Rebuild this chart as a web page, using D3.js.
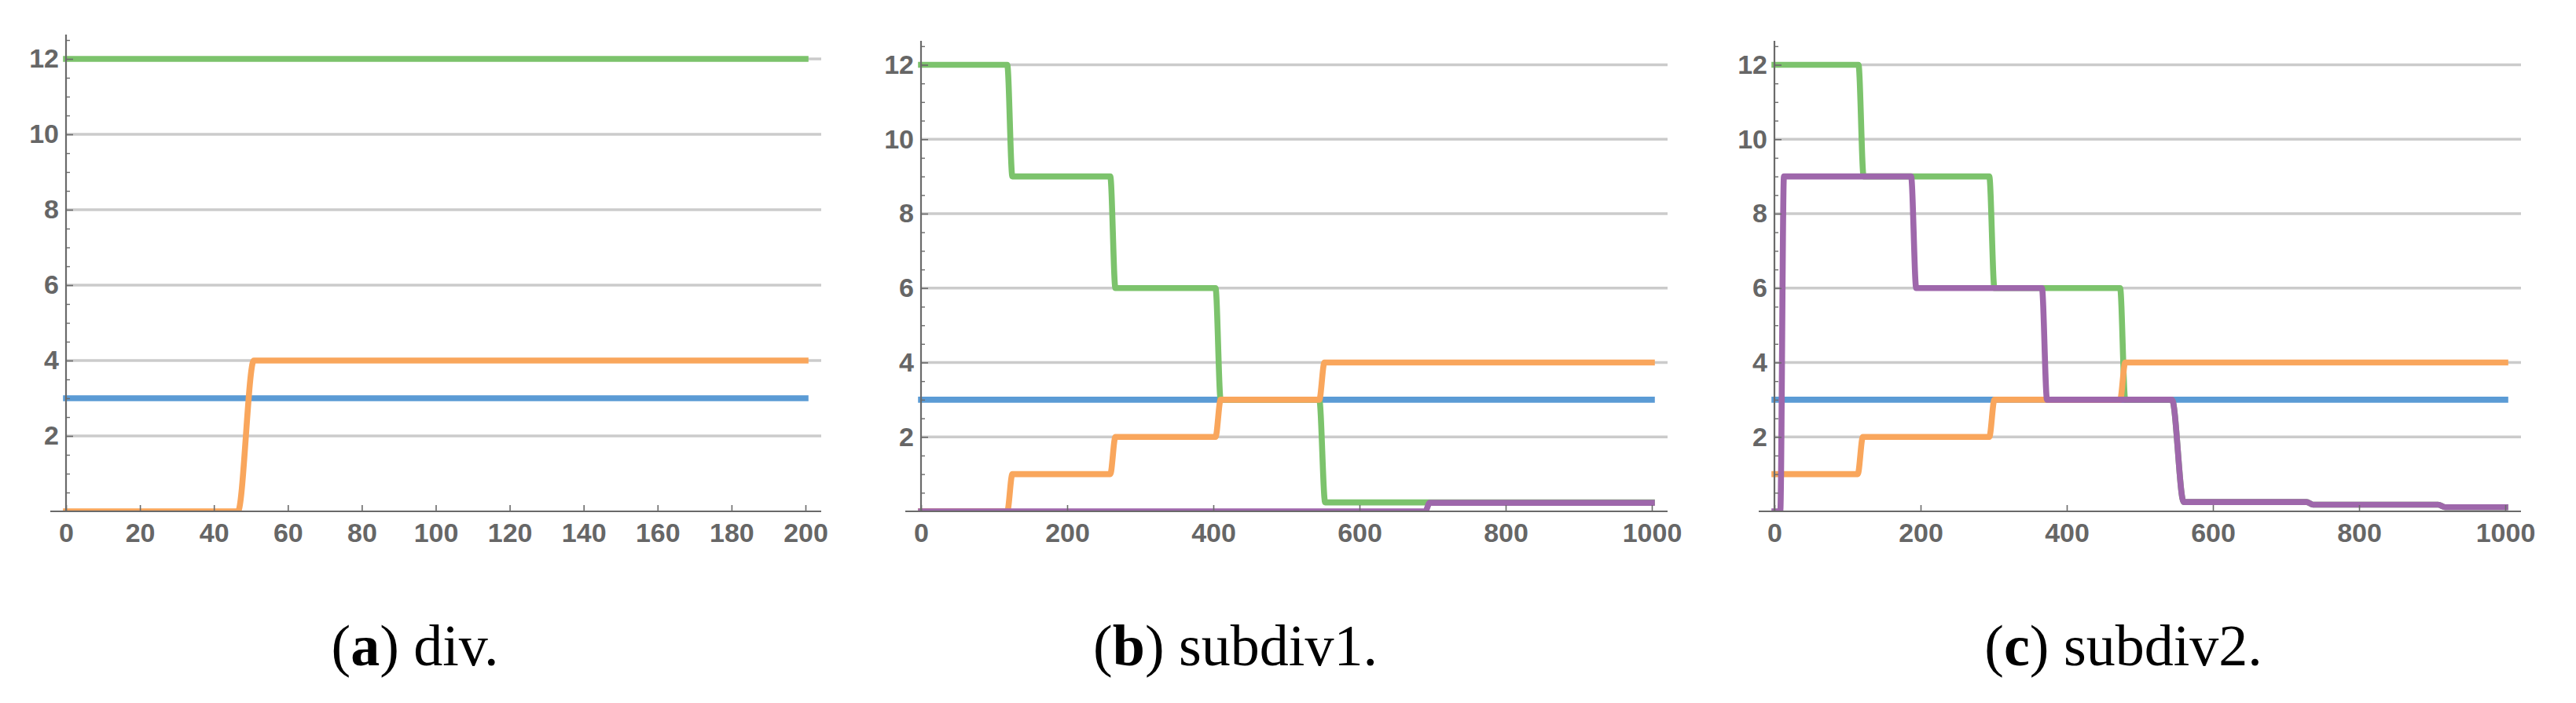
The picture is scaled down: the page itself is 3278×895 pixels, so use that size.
<!DOCTYPE html>
<html><head><meta charset="utf-8">
<script src="https://cdn.jsdelivr.net/npm/d3@7"></script>
<style>
html,body{margin:0;padding:0;background:#fff;}
svg{display:block;}
</style></head>
<body>
<svg id="chart" width="3278" height="895"></svg>
<script>
// ---------- data ----------
const seriesColors = ["#5b9bd5", "#7cc36c", "#f9a65c", "#9e67ab"]; // blue, green, orange, purple
const captions = [["a", "div."], ["b", "subdiv1."], ["c", "subdiv2."]];

const divTicksX = [0, 20, 40, 60, 80, 100, 120, 140, 160, 180, 200];
const subTicksX = [0, 200, 400, 600, 800, 1000];
const yTicks = [2, 4, 6, 8, 10, 12];
const yMinorTicks = [0.5,1,1.5,2.5,3,3.5,4.5,5,5.5,6.5,7,7.5,8.5,9,9.5,10.5,11,11.5,12.5];

// panel (a) div.
const divBlue   = [[0,3],[200,3]];
const divGreen  = [[0,12],[200,12]];
const divOrange = [[0,0],[46.5,0],[50.8,4],[200,4]];
const divPurple = [];

// panel (b) subdiv1.
const sub1Blue   = [[0,3],[1000,3]];
const sub1Green  = [[0,12],[118,12],[125,9],[259,9],[266,6],[403,6],[410,3],[545,3],[553,0.24],[1000,0.24]];
const sub1Orange = [[0,0],[118,0],[125,1],[259,1],[266,2],[403,2],[410,3],[545,3],[552,4],[1000,4]];
const sub1Purple = [[0,0],[690,0],[696,0.23],[1000,0.23]];

// panel (c) subdiv2.
const sub2Blue   = [[0,3],[1000,3]];
const sub2Green  = [[0,12],[115,12],[122,9],[294,9],[301,6],[473,6],[480,3],[544,3],[560,0.25],[728,0.25],[737,0.18],[908,0.18],[918,0.11],[1000,0.11]];
const sub2Orange = [[0,1],[114,1],[121,2],[294,2],[301,3],[473,3],[480,4],[1000,4]];
const sub2Purple = [[0,0],[8,0],[13,9],[187,9],[194,6],[366,6],[373,3],[544,3],[560,0.25],[728,0.25],[737,0.18],[908,0.18],[918,0.11],[1000,0.11]];

// ---------- layout ----------
const panels = [
  {xDomain:[0,200],  xRange:[84,1025],   yTop:75,   axTop:44, ticks:divTicksX,
   series:[divBlue, divGreen, divOrange, divPurple], capX:528},
  {xDomain:[0,1000], xRange:[1172,2102], yTop:82.5, axTop:52, ticks:subTicksX,
   series:[sub1Blue, sub1Green, sub1Orange, sub1Purple], capX:1572},
  {xDomain:[0,1000], xRange:[2258,3188], yTop:82.5, axTop:52, ticks:subTicksX,
   series:[sub2Blue, sub2Green, sub2Orange, sub2Purple], capX:2702}
];
const yBottom = 651;
const pad = 20;
const axisColor = "#6a6a6a";
const labelColor = "#666666";
const labelFont = "'Liberation Sans', Arial, sans-serif";

const svg = d3.select("#chart");
const defs = svg.append("defs");

panels.forEach((p, i) => {
  const x = d3.scaleLinear().domain(p.xDomain).range(p.xRange);
  const y = d3.scaleLinear().domain([0, 12]).range([yBottom, p.yTop]);
  const g = svg.append("g");
  const x0 = p.xRange[0] - pad, x1 = p.xRange[1] + pad;

  // grid lines
  g.append("g").selectAll("line").data(yTicks).join("line")
    .attr("x1", p.xRange[0]).attr("x2", x1)
    .attr("y1", d => y(d)).attr("y2", d => y(d))
    .attr("stroke", "#cbcbcb").attr("stroke-width", 3.4);

  // clip for lines at y=0
  defs.append("clipPath").attr("id", "clip" + i).append("rect")
    .attr("x", x0 - 20).attr("y", 0).attr("width", x1 - x0 + 40).attr("height", yBottom);

  const line = d3.line().x(d => x(d[0])).y(d => y(d[1])).curve(d3.curveMonotoneX);
  g.append("g").attr("clip-path", `url(#clip${i})`)
    .selectAll("path").data(p.series.map((s, k) => ({s, k})).filter(o => o.s.length))
    .join("path")
    .attr("d", o => line(o.s))
    .attr("fill", "none")
    .attr("stroke", o => seriesColors[o.k])
    .attr("stroke-width", 7.6)
    .attr("stroke-linecap", "square")
    .attr("stroke-linejoin", "round");

  // x axis: tick marks (up), labels (below)
  const xt = g.append("g").attr("transform", `translate(0,${yBottom})`)
    .call(d3.axisTop(x).tickValues(p.ticks).tickSize(8).tickFormat(""));
  xt.select(".domain").remove();
  xt.selectAll("line").attr("stroke", axisColor).attr("stroke-width", 1.6);
  const xl = g.append("g").attr("transform", `translate(0,${yBottom})`)
    .call(d3.axisBottom(x).tickValues(p.ticks).tickSize(0).tickPadding(15).tickFormat(d3.format("d")));
  xl.select(".domain").remove();
  xl.selectAll("text").attr("font-family", labelFont).attr("font-size", 34)
    .attr("font-weight", "bold").attr("fill", labelColor);

  // y axis: major + minor ticks (right), labels (left)
  const yt = g.append("g").attr("transform", `translate(${p.xRange[0]},0)`)
    .call(d3.axisRight(y).tickValues(yTicks).tickSize(9).tickFormat(""));
  yt.select(".domain").remove();
  yt.selectAll("line").attr("stroke", axisColor).attr("stroke-width", 1.6);
  const ym = g.append("g").attr("transform", `translate(${p.xRange[0]},0)`)
    .call(d3.axisRight(y).tickValues(yMinorTicks).tickSize(5).tickFormat(""));
  ym.select(".domain").remove();
  ym.selectAll("line").attr("stroke", axisColor).attr("stroke-width", 1.4);
  ym.selectAll(".tick").filter(d => y(d) < p.axTop).remove();
  const yl = g.append("g").attr("transform", `translate(${p.xRange[0]},0)`)
    .call(d3.axisLeft(y).tickValues(yTicks).tickSize(0).tickPadding(9));
  yl.select(".domain").remove();
  yl.selectAll("text").attr("font-family", labelFont).attr("font-size", 34)
    .attr("font-weight", "bold").attr("fill", labelColor);

  // axis lines
  g.append("line").attr("x1", x0).attr("x2", x1).attr("y1", yBottom).attr("y2", yBottom)
    .attr("stroke", axisColor).attr("stroke-width", 2.2);
  g.append("line").attr("x1", p.xRange[0]).attr("x2", p.xRange[0]).attr("y1", yBottom).attr("y2", p.axTop)
    .attr("stroke", axisColor).attr("stroke-width", 2.2);

  // caption
  const t = svg.append("text").attr("x", p.capX).attr("y", 847)
    .attr("text-anchor", "middle")
    .attr("font-family", "'Liberation Serif', 'Times New Roman', serif")
    .attr("font-size", 74).attr("fill", "#000");
  t.append("tspan").text("(");
  t.append("tspan").attr("font-weight", "bold").text(captions[i][0]);
  t.append("tspan").text(") " + captions[i][1]);
});
</script>
</body></html>
